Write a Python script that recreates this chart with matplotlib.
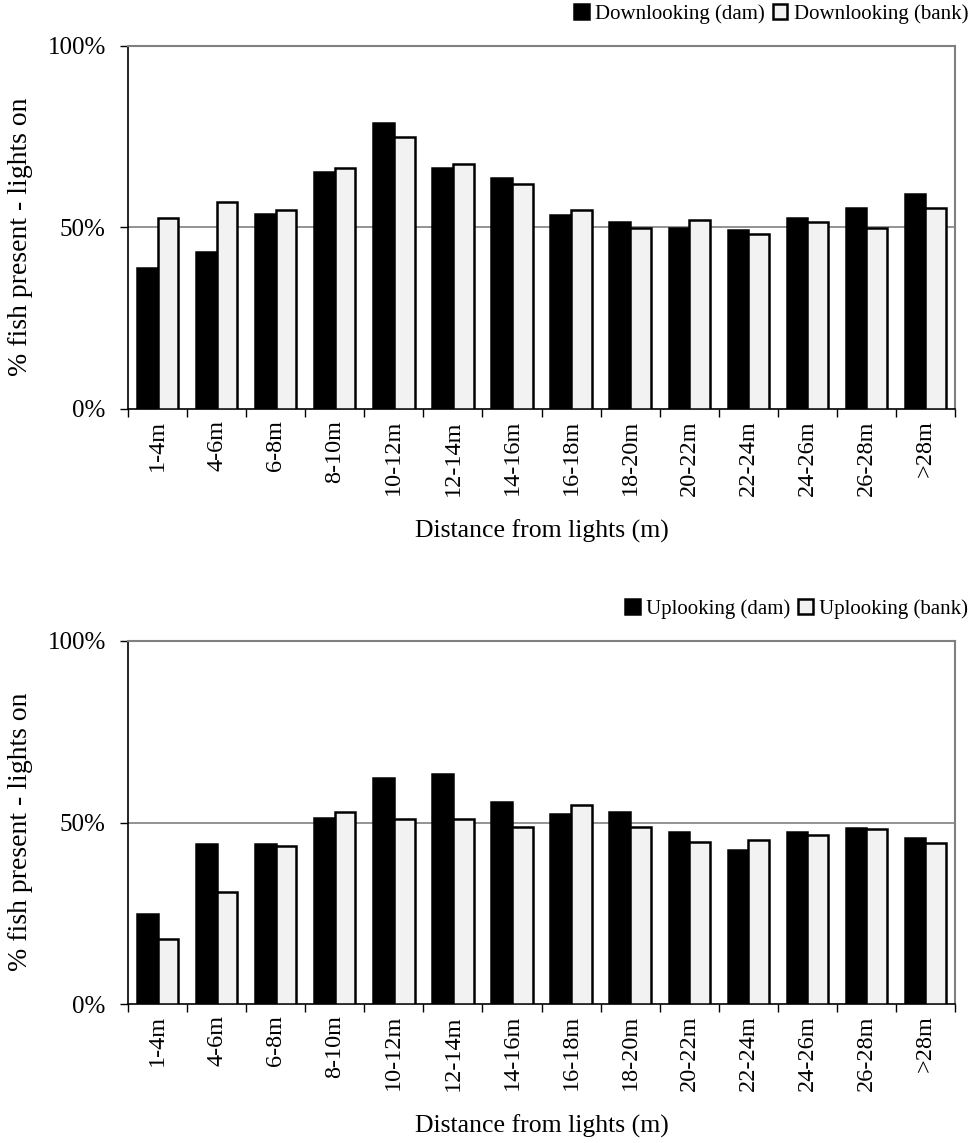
import numpy as np
import matplotlib.pyplot as plt

plt.rcParams['font.family'] = ['Liberation Serif', 'DejaVu Serif']

distances = ['1-4m', '4-6m', '6-8m', '8-10m', '10-12m', '12-14m', '14-16m',
             '16-18m', '18-20m', '20-22m', '22-24m', '24-26m', '26-28m', '>28m']

# % fish present with lights on
down_dam = [38.9, 43.3, 53.8, 65.2, 78.7, 66.3, 63.5, 53.3, 51.6, 49.9, 49.4, 52.7, 55.4, 59.1]
down_bank = [52.5, 56.9, 54.7, 66.3, 74.9, 67.4, 61.9, 54.8, 49.7, 52.0, 48.2, 51.5, 49.7, 55.2]
up_dam = [24.8, 44.0, 44.0, 51.2, 62.2, 63.3, 55.6, 52.3, 52.9, 47.3, 42.4, 47.3, 48.4, 45.7]
up_bank = [18.0, 30.8, 43.4, 52.8, 51.0, 51.0, 48.8, 54.9, 48.8, 44.5, 45.1, 46.6, 48.3, 44.4]

grey = '#808080'

fig = plt.figure(figsize=(9.72, 11.43), dpi=100)
ax1 = fig.add_axes([0.1317, 0.6422, 0.8508, 0.3178])
ax2 = fig.add_axes([0.1317, 0.1216, 0.8508, 0.3176])


def draw(ax, dam, bank, names, leg_y):
    x = np.arange(len(distances))
    w = 0.35
    ax.bar(x - w / 2, dam, w, color='black', edgecolor='black', linewidth=1.8,
           label=names[0], zorder=3)
    ax.bar(x + w / 2, bank, w, color='#f2f2f2', edgecolor='black', linewidth=1.8,
           label=names[1], zorder=3)
    ax.set_xlim(-0.5, len(distances) - 0.5)
    ax.set_ylim(0, 100)
    ax.set_yticks([0, 50, 100])
    ax.set_yticklabels(['0%', '50%', '100%'], fontsize=18)
    ax.axhline(50, color=grey, linewidth=1.2, zorder=1)
    ax.set_xticks(x)
    ax.set_xticklabels(distances, rotation=90, fontsize=17.5)
    ax.set_xticks(np.arange(len(distances) + 1) - 0.5, minor=True)
    ax.tick_params(axis='x', which='major', length=0, pad=8)
    ax.tick_params(axis='x', which='minor', length=6, direction='out', width=1)
    ax.tick_params(axis='y', length=6, direction='out', width=1, pad=10)
    for s in ['left', 'bottom']:
        ax.spines[s].set_color('black')
        ax.spines[s].set_linewidth(1.2)
    for s in ['top', 'right']:
        ax.spines[s].set_color(grey)
        ax.spines[s].set_linewidth(1.5)
    ax.set_xlabel('Distance from lights (m)', fontsize=18.5, va='top')
    ax.xaxis.set_label_coords(0.5, -0.305)
    ax.set_ylabel('% fish present - lights on', fontsize=20)
    ax.yaxis.set_label_coords(-0.115, 0.475)
    ax.legend(ncol=2, loc='center right', bbox_to_anchor=(1.016, leg_y), frameon=False,
              fontsize=15, handlelength=0.7, handleheight=0.7, handletextpad=0.3,
              columnspacing=0.4, borderaxespad=0.0, borderpad=0.0)


draw(ax1, down_dam, down_bank, ['Downlooking (dam)', 'Downlooking (bank)'], 1.088)
draw(ax2, up_dam, up_bank, ['Uplooking (dam)', 'Uplooking (bank)'], 1.088)

fig.savefig('out.png', dpi=100)
